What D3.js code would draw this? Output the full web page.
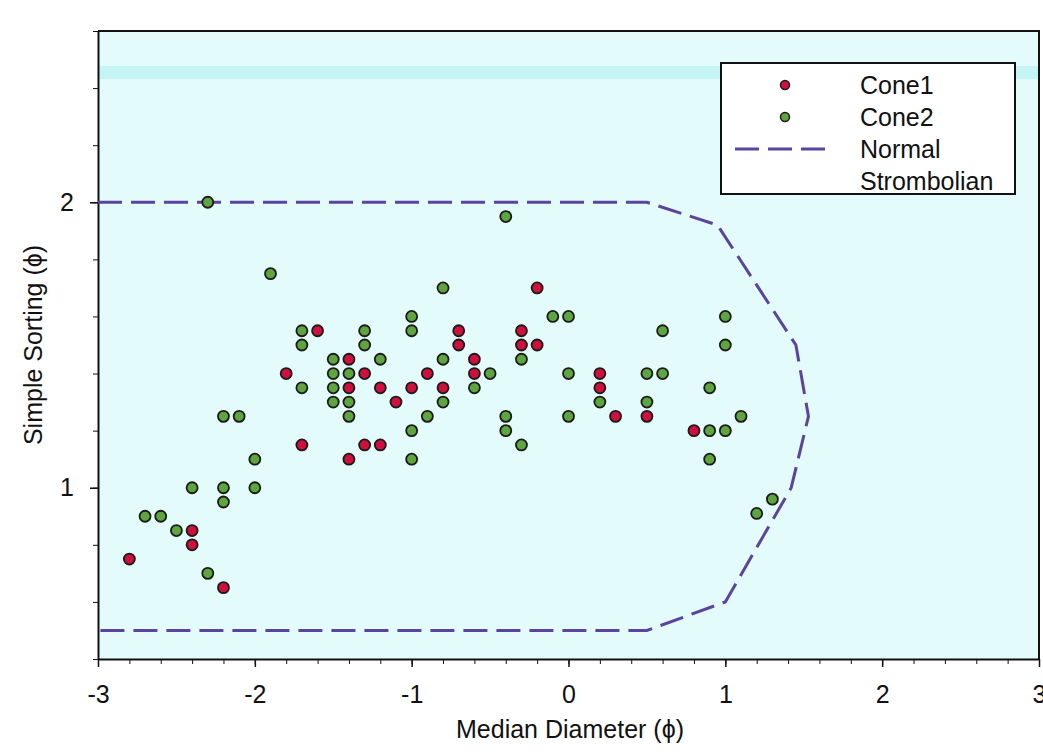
<!DOCTYPE html>
<html>
<head>
<meta charset="utf-8">
<script src="https://cdn.jsdelivr.net/npm/d3@7"></script>
<style>
body { margin: 0; background: #fff; }
svg { display: block; font-family: "Liberation Sans", Arial, sans-serif; }
.axis path, .axis line { stroke: #111; }
.axis text { font-size: 25px; fill: #111; font-family: "Liberation Sans", Arial, sans-serif; }
</style>
</head>
<body>
<div class="chart"></div>
<script>
// Cone1 (red) : median diameter / sorting, in phi
var cone1X = [-2.8, -2.4, -2.4, -2.2, -1.8, -1.7, -1.6, -1.4, -1.4, -1.4, -1.3, -1.3, -1.2, -1.2, -1.1, -1.0,
  -0.9, -0.8, -0.7, -0.7, -0.6, -0.6, -0.3, -0.3, -0.2, -0.2, 0.2, 0.2, 0.3, 0.5, 0.8];
var cone1Y = [0.75, 0.85, 0.80, 0.65, 1.40, 1.15, 1.55, 1.45, 1.35, 1.10, 1.40, 1.15, 1.35, 1.15, 1.30, 1.35,
  1.40, 1.35, 1.55, 1.50, 1.45, 1.40, 1.55, 1.50, 1.70, 1.50, 1.40, 1.35, 1.25, 1.25, 1.20];

// Cone2 (green)
var cone2X = [-2.7, -2.6, -2.5, -2.4, -2.3, -2.2, -2.2, -2.2, -2.1, -2.0, -2.0, -2.3, -1.9, -1.7, -1.7, -1.7,
  -1.5, -1.5, -1.5, -1.5, -1.4, -1.4, -1.4, -1.3, -1.3, -1.2, -1.0, -1.0, -1.0, -1.0, -0.9, -0.8, -0.8, -0.8,
  -0.6, -0.5, -0.4, -0.4, -0.4, -0.3, -0.3, -0.1, 0.0, 0.0, 0.0, 0.2, 0.5, 0.5, 0.6, 0.6, 0.9, 0.9, 0.9,
  1.0, 1.0, 1.0, 1.1, 1.2, 1.3];
var cone2Y = [0.90, 0.90, 0.85, 1.00, 0.70, 1.00, 0.95, 1.25, 1.25, 1.10, 1.00, 2.00, 1.75, 1.55, 1.50, 1.35,
  1.45, 1.40, 1.35, 1.30, 1.40, 1.30, 1.25, 1.55, 1.50, 1.45, 1.60, 1.55, 1.20, 1.10, 1.25, 1.70, 1.45, 1.30,
  1.35, 1.40, 1.95, 1.25, 1.20, 1.45, 1.15, 1.60, 1.60, 1.40, 1.25, 1.30, 1.40, 1.30, 1.55, 1.40, 1.35, 1.20, 1.10,
  1.60, 1.50, 1.20, 1.25, 0.91, 0.96];

// Normal Strombolian field outline
var stromX = [-3, 0.5, 0.95, 1.45, 1.53, 1.42, 1.0, 0.5, -3];
var stromY = [2.0, 2.0, 1.92, 1.5, 1.25, 1.0, 0.6, 0.5, 0.5];

var xMajor = [-3, -2, -1, 0, 1, 2, 3];
var yMajor = [1, 2];
var legendLabels = ["Cone1", "Cone2", "Normal", "Strombolian"];

var W = 1043, H = 755;
var pLeft = 98, pRight = 1039, pTop = 31, pBottom = 659;

var x = d3.scaleLinear().domain([-3, 3]).range([pLeft, pRight]);
var y = d3.scaleLinear().domain([0.4, 2.6]).range([pBottom, pTop]);

var svg = d3.select('div.chart')
  .append('svg')
  .attr('width', W)
  .attr('height', H);

// plot background
svg.append('rect')
  .attr('x', pLeft).attr('y', pTop)
  .attr('width', pRight - pLeft).attr('height', pBottom - pTop)
  .attr('fill', '#e3fbfb');

// scanner band near the top
svg.append('rect')
  .attr('x', pLeft).attr('y', 66)
  .attr('width', pRight - pLeft).attr('height', 13)
  .attr('fill', '#bdf3f3')
  .attr('opacity', 0.8);

// frame top and right
svg.append('path')
  .attr('d', 'M' + pLeft + ',' + pTop + 'H' + pRight + 'V' + pBottom)
  .attr('fill', 'none')
  .attr('stroke', '#111')
  .attr('stroke-width', 2);

// minor ticks
var xMinor = d3.range(-3, 3.001, 0.2);
var yMinor = d3.range(0.4, 2.601, 0.2);

svg.append('g')
  .attr('class', 'axis')
  .attr('transform', 'translate(0,' + pBottom + ')')
  .call(d3.axisBottom(x).tickValues(xMinor).tickSize(5).tickFormat(''))
  .call(function(g){ g.select('.domain').remove(); });

svg.append('g')
  .attr('class', 'axis')
  .attr('transform', 'translate(' + pLeft + ',0)')
  .call(d3.axisLeft(y).tickValues(yMinor).tickSize(5).tickFormat(''))
  .call(function(g){ g.select('.domain').remove(); });

// major axes
var xAxis = svg.append('g')
  .attr('class', 'axis')
  .attr('transform', 'translate(0,' + pBottom + ')')
  .call(d3.axisBottom(x).tickValues(xMajor).tickSize(8).tickSizeOuter(0).tickPadding(18)
    .tickFormat(function(d){ return String(d); }));
xAxis.select('.domain').attr('stroke-width', 2);
xAxis.selectAll('line').attr('stroke-width', 1.5);

var yAxis = svg.append('g')
  .attr('class', 'axis')
  .attr('transform', 'translate(' + pLeft + ',0)')
  .call(d3.axisLeft(y).tickValues(yMajor).tickSize(8).tickSizeOuter(0).tickPadding(16)
    .tickFormat(function(d){ return String(d); }));
yAxis.select('.domain').attr('stroke-width', 2);
yAxis.selectAll('line').attr('stroke-width', 1.5);

// axis titles
svg.append('text')
  .attr('x', 570).attr('y', 738)
  .attr('text-anchor', 'middle')
  .attr('font-size', 25)
  .attr('fill', '#111')
  .text('Median Diameter (\u03d5)');

svg.append('text')
  .attr('transform', 'translate(42,345) rotate(-90)')
  .attr('text-anchor', 'middle')
  .attr('font-size', 25)
  .attr('fill', '#111')
  .text('Simple Sorting (\u03d5)');

// strombolian outline
var line = d3.line()
  .x(function(d){ return x(d[0]); })
  .y(function(d){ return y(d[1]); });

svg.append('path')
  .datum(d3.zip(stromX, stromY))
  .attr('d', line)
  .attr('fill', 'none')
  .attr('stroke', '#5a449e')
  .attr('stroke-width', 3)
  .attr('stroke-dasharray', '24,9');

// points
function drawPoints(xs, ys, color, cls) {
  svg.selectAll('circle.' + cls)
    .data(d3.zip(xs, ys))
    .enter()
    .append('circle')
    .attr('class', cls)
    .attr('cx', function(d){ return x(d[0]); })
    .attr('cy', function(d){ return y(d[1]); })
    .attr('r', 5.5)
    .attr('fill', color)
    .attr('stroke', '#1a1a1a')
    .attr('stroke-width', 1.8);
}
drawPoints(cone2X, cone2Y, '#5ea540', 'cone2');
drawPoints(cone1X, cone1Y, '#d0103c', 'cone1');

// legend
var legend = svg.append('g');
legend.append('rect')
  .attr('x', 721).attr('y', 63)
  .attr('width', 294).attr('height', 131)
  .attr('fill', '#fff')
  .attr('stroke', '#111')
  .attr('stroke-width', 2);

legend.append('circle').attr('cx', 785).attr('cy', 85).attr('r', 4.5)
  .attr('fill', '#d0103c').attr('stroke', '#1a1a1a').attr('stroke-width', 1.5);
legend.append('circle').attr('cx', 785).attr('cy', 117).attr('r', 4.5)
  .attr('fill', '#5ea540').attr('stroke', '#1a1a1a').attr('stroke-width', 1.5);
legend.append('line')
  .attr('x1', 735).attr('x2', 826).attr('y1', 149).attr('y2', 149)
  .attr('stroke', '#5a449e').attr('stroke-width', 3)
  .attr('stroke-dasharray', '24,9');

legend.selectAll('text')
  .data(legendLabels)
  .enter()
  .append('text')
  .attr('x', 860)
  .attr('y', function(d, i){ return 94 + i * 32; })
  .attr('font-size', 25)
  .attr('fill', '#111')
  .text(function(d){ return d; });
</script>
</body>
</html>
